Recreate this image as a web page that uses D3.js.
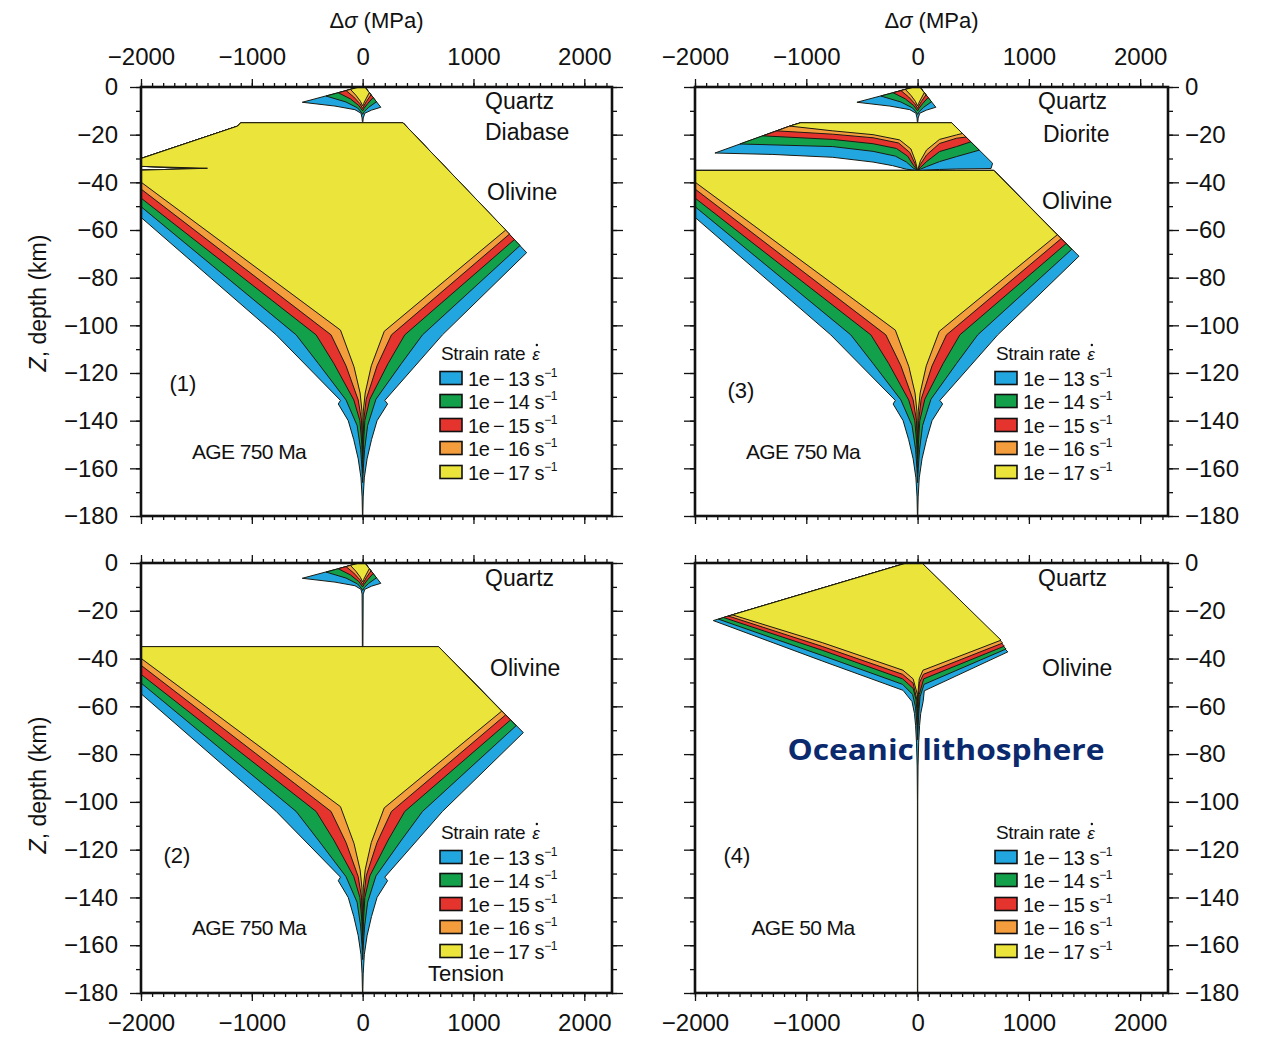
<!DOCTYPE html>
<html><head><meta charset="utf-8">
<script src="https://cdn.jsdelivr.net/npm/d3@7"></script>
<style>
body{margin:0;background:#fff}
svg text{font-family:"Liberation Sans",Arial,Helvetica,sans-serif;fill:#111}
</style>
</head><body>
<svg id="c" width="1268" height="1038"></svg>
<script>
// ===================== DATA =====================
// strain rates, order: outermost (blue) -> innermost (yellow)
const rateExponents = ["13","14","15","16","17"];
const rateColors = ["#22a6df","#13a04b","#e5332e","#f49d3d","#ebe43a"];
const stressTicks = [-2000,-1000,0,1000,2000];
const stressMinor = d3.range(-2000,2251,100);
const depthTicks = [0,-20,-40,-60,-80,-100,-120,-140,-160,-180];
const depthMinor = d3.range(0,-181,-10);

// --- quartz upper crust (panels 1-3), points [stress MPa, depth km] ---
const quartzTop = [[-30,0],[20,0]];
const quartzRight = [
  [[164,-8.5],[80,-9.7],[20,-11],[5,-13]],
  [[125,-6.2],[55,-8.5],[15,-10.3],[0,-11.5]],
  [[95,-4.4],[45,-7],[12,-9],[0,-10]],
  [[75,-3.3],[35,-6],[10,-8],[0,-9]],
  [[60,-2.4],[30,-5],[8,-7],[0,-8]]
];
const quartzLeft = [
  [[-545,-6.4],[-250,-8],[-70,-9.5],[-15,-11],[-5,-13]],
  [[-330,-3.8],[-150,-6.3],[-45,-8.8],[-8,-10.8],[0,-11.5]],
  [[-220,-2.4],[-110,-5],[-35,-7.8],[0,-10]],
  [[-150,-1.5],[-80,-4.2],[-25,-7],[0,-9]],
  [[-110,-1],[-60,-3.5],[-20,-6],[0,-8]]
];
const quartzTrunk = 2.5;             // half width of weak stem (MPa)
const quartzBase = [-14.6,-35,-14.6]; // depth where stem ends, panels 1,2,3

// --- olivine mantle, 750 Ma (panels 1-3) ---
const mantleLeft = [
  [[-2000,-54.7],[-780,-104],[-200,-131.5],[-220,-133],[-130,-140],[-80,-148],[-40,-156],[-15,-164],[-5,-172],[-1.5,-180]],
  [[-2000,-50.2],[-600,-104],[-400,-116],[-150,-131.3],[-50,-142],[-18,-152],[-6,-160],[0,-166]],
  [[-2000,-46.6],[-420,-104],[-260,-116],[-80,-131.3],[-25,-140],[-7,-150],[-2,-158],[0,-162]],
  [[-2000,-42.8],[-285,-104],[-150,-117],[-40,-131.3],[-10,-140],[-3,-150],[0,-156]],
  [[-2000,-39.9],[-200,-102],[-78,-117.4],[-23,-128.4],[-6,-136],[-2,-146],[0,-152]]
];
const mantleRight = [
  [[720,-104],[200,-131.5],[225,-133],[130,-140],[80,-148],[40,-156],[15,-164],[5,-172],[1.5,-180]],
  [[540,-104],[350,-116],[120,-131],[45,-142],[18,-152],[6,-160],[0,-166]],
  [[380,-104],[230,-116],[65,-131],[20,-140],[7,-150],[2,-158],[0,-162]],
  [[260,-104],[130,-117],[32,-131],[10,-140],[3,-150],[0,-156]],
  [[195,-102.5],[78,-117],[23,-128.4],[6,-136],[2,-146],[0,-152]]
];
const mantleVertexP1 = [[1480,-69.5],[1420,-66.5],[1370,-64],[1325,-61.7],[1291,-60]];
const mantleVertexP23 = [[1450,-71],[1385,-68.1],[1335,-65.7],[1290,-63.6],[1255,-62]];
// panel 1: diabase lower crust merged with mantle
const diabaseTop = [[-1100,-15],[364,-15]];
const diabaseUpperLeft = [[-2600,-35.6],[-2000,-34.9],[-1400,-34.1],[-2000,-33.3],[-2600,-31.6],[-2000,-30],[-1128,-16.4]];
// panels 2,3: mantle top at Moho
const mohoTop = [[-2600,-35],[685,-35]];
const offScale = -2600;

// --- diorite lower crust (panel 3) ---
const dioriteTop = [[-1148,-16.4],[-1050,-15],[306,-15]];
const dioriteRight = [
  [[674,-32],[660,-34.2],[350,-34.4],[197,-34.6],[81,-34.8],[0,-35]],
  [[554,-26.5],[350,-29.2],[197,-31.3],[81,-33.4],[25,-34.5],[0,-35]],
  [[479,-23],[350,-25],[197,-27.1],[81,-31.3],[25,-33.8],[0,-35]],
  [[436,-21],[350,-21.5],[197,-23.7],[81,-28.5],[25,-32.5],[0,-35]],
  [[403,-19.5],[350,-20.1],[197,-22],[81,-26.4],[25,-31],[0,-35]]
];
const dioriteLeft = [
  [[-1821,-27.7],[-1300,-28.3],[-762,-29.5],[-400,-31.5],[-224,-33],[-100,-34.5],[0,-35]],
  [[-1596,-23.9],[-762,-25],[-400,-27],[-200,-29],[-100,-31.5],[-40,-34],[0,-35]],
  [[-1390,-20.5],[-762,-22],[-400,-23.8],[-190,-25.8],[-90,-29],[-35,-33],[0,-35]],
  [[-1265,-18.4],[-762,-19.8],[-400,-21.3],[-170,-23.5],[-70,-27.5],[-25,-32],[0,-35]],
  [[-1148,-16.4],[-762,-18.4],[-400,-20],[-161,-22.2],[-60,-26],[-20,-31],[0,-35]]
];

// --- oceanic lithosphere, 50 Ma (panel 4) ---
const oceanTop = [[-100,0],[40,0]];
const oceanRight = [
  [[811,-37.2],[60,-53.5],[50,-58],[28,-63],[18,-68],[10,-75],[4,-85],[1.5,-100],[1.5,-180]],
  [[795,-36],[58,-50.8],[22,-56],[12,-62],[5,-68],[0,-74]],
  [[780,-34.8],[55,-48.5],[15,-55],[7,-61],[0,-70]],
  [[765,-33.5],[52,-46.6],[15,-50.3],[3,-58],[0,-65]],
  [[750,-32.3],[48,-44.9],[15,-48.5],[2,-55],[0,-60]]
];
const oceanLeft = [
  [[-1836,-24.1],[-852,-41.1],[-131,-53.3],[-50,-58],[-28,-63],[-18,-68],[-10,-75],[-4,-85],[-1.5,-100],[-1.5,-180]],
  [[-1790,-23.5],[-852,-38.8],[-135,-50.8],[-45,-55],[-20,-60],[-12,-64],[-5,-68],[0,-74]],
  [[-1745,-22.8],[-852,-36.6],[-135,-48.5],[-40,-52.5],[-15,-57],[-7,-61],[0,-70]],
  [[-1700,-22.2],[-852,-35],[-135,-46.6],[-40,-50.3],[-3,-58],[0,-65]],
  [[-1665,-21.7],[-852,-33.4],[-131,-44.9],[-40,-48.5],[-2,-55],[0,-60]]
];

// ===================== LAYOUT =====================
const svg = d3.select("#c");
const xDomain = [-2000,2250], zDomain = [0,-180];
const panels = [
  {x:141,y:87,w:471,h:429, xLab:"top", yLab:"left", num:"(1)", age:"AGE 750 Ma",
   mats:[["Quartz",344,13],["Diabase",344,44],["Olivine",346,104]]},
  {x:141,y:563,w:471,h:430, xLab:"bottom", yLab:"left", num:"(2)", age:"AGE 750 Ma",
   mats:[["Quartz",344,14],["Olivine",349,104]]},
  {x:695,y:87,w:473,h:429, xLab:"top", yLab:"right", num:"(3)", age:"AGE 750 Ma",
   mats:[["Quartz",343,13],["Diorite",348,46],["Olivine",347,113]]},
  {x:695,y:563,w:473,h:430, xLab:"bottom", yLab:"right", num:"(4)", age:"AGE 50 Ma",
   mats:[["Quartz",343,14],["Olivine",347,104]]}
];
const numPos = [[42,296],[36,292],[46,303],[42,292]];
const fmt = d => d < 0 ? "\u2212" + Math.abs(d) : String(d);
const rev = a => a.slice().reverse();

function buildPolys(i){
  const L = [];
  if (i < 3){
    const m = [];
    for (let r=0;r<5;r++){
      const zf = mantleLeft[r][0][1];
      if (i === 0){
        m.push([...diabaseTop, mantleVertexP1[r], ...mantleRight[r], ...rev(mantleLeft[r]), [offScale,zf], ...diabaseUpperLeft]);
      } else {
        m.push([...mohoTop, mantleVertexP23[r], ...mantleRight[r], ...rev(mantleLeft[r]), [offScale,zf]]);
      }
    }
    L.push(m);
    if (i === 2){
      const d = [];
      for (let r=0;r<5;r++) d.push([...dioriteTop, ...dioriteRight[r], ...rev(dioriteLeft[r])]);
      L.push(d);
    }
    const q = [];
    for (let r=0;r<5;r++){
      const R = quartzRight[r].slice(), Lf = quartzLeft[r].slice();
      if (r === 0){ R.push([quartzTrunk, quartzBase[i]]); Lf.push([-quartzTrunk, quartzBase[i]]); }
      q.push([...quartzTop, ...R, ...rev(Lf)]);
    }
    L.push(q);
  } else {
    const o = [];
    for (let r=0;r<5;r++) o.push([...oceanTop, ...oceanRight[r], ...rev(oceanLeft[r])]);
    L.push(o);
  }
  return L;
}

panels.forEach((p,i)=>{
  const x = d3.scaleLinear().domain(xDomain).range([0,p.w]);
  const y = d3.scaleLinear().domain(zDomain).range([0,p.h]);
  const g = svg.append("g").attr("transform",`translate(${p.x},${p.y})`);
  g.append("clipPath").attr("id","clip"+i).append("rect").attr("width",p.w).attr("height",p.h);
  const line = d3.line().x(d=>x(d[0])).y(d=>y(d[1]));
  const pg = g.append("g").attr("clip-path",`url(#clip${i})`);
  buildPolys(i).forEach(layer=>{
    layer.forEach((pts,r)=>{
      pg.append("path").attr("d", line(pts)+"Z")
        .attr("fill", rateColors[r]).attr("stroke","#1b1b12")
        .attr("stroke-width",1).attr("stroke-linejoin","round");
    });
  });

  const styleAxis = sel => { sel.select(".domain").remove();
    sel.selectAll("line").attr("stroke","#111").attr("stroke-width",1.3);
    sel.selectAll("text").attr("font-size",24).attr("font-family",null).attr("fill","#111"); };
  g.append("g").call(d3.axisTop(x).tickValues(stressMinor).tickSize(4).tickFormat("")).call(styleAxis);
  g.append("g").call(d3.axisTop(x).tickValues(stressTicks).tickSize(8).tickPadding(14)
    .tickFormat(p.xLab==="top"?fmt:"")).call(styleAxis);
  g.append("g").attr("transform",`translate(0,${p.h})`)
    .call(d3.axisBottom(x).tickValues(stressMinor).tickSize(4).tickFormat("")).call(styleAxis);
  g.append("g").attr("transform",`translate(0,${p.h})`)
    .call(d3.axisBottom(x).tickValues(stressTicks).tickSize(8).tickPadding(13)
    .tickFormat(p.xLab==="bottom"?fmt:"")).call(styleAxis);
  g.append("g").call(d3.axisLeft(y).tickValues(depthMinor).tickSize(5).tickFormat("")).call(styleAxis);
  g.append("g").call(d3.axisLeft(y).tickValues(depthTicks).tickSize(11).tickPadding(12)
    .tickFormat(p.yLab==="left"?fmt:"")).call(styleAxis);
  g.append("g").attr("transform",`translate(${p.w},0)`)
    .call(d3.axisRight(y).tickValues(depthMinor).tickSize(5).tickFormat("")).call(styleAxis);
  g.append("g").attr("transform",`translate(${p.w},0)`)
    .call(d3.axisRight(y).tickValues(depthTicks).tickSize(11).tickPadding(6)
    .tickFormat(p.yLab==="right"?fmt:"")).call(styleAxis);

  g.append("rect").attr("width",p.w).attr("height",p.h).attr("fill","none")
    .attr("stroke","#111").attr("stroke-width",2.6);

  p.mats.forEach(m=>{
    g.append("text").attr("x",m[1]).attr("y",m[2]+8.5).attr("font-size",23).text(m[0]);
  });
  g.append("text").attr("x",numPos[i][0]).attr("y",numPos[i][1]+8).attr("text-anchor","middle")
    .attr("font-size",22).text(p.num);
  g.append("text").attr("x",108).attr("y",364+7.5).attr("text-anchor","middle")
    .attr("font-size",21).attr("letter-spacing",-0.6).text(p.age);

  // legend
  const lg = g.append("g").attr("transform",`translate(${i<2?299:300},${i%2===0?266:269})`);
  const t = lg.append("text").attr("x",1).attr("y",7).attr("font-size",19).attr("letter-spacing",-0.3)
    .text("Strain rate");
  const tl = t.node().getComputedTextLength();
  lg.append("text").attr("x",1+tl+7).attr("y",7).attr("font-size",17).attr("font-style","italic")
    .text("\u03b5");
  lg.append("circle").attr("cx",1+tl+11.5).attr("cy",-8).attr("r",1.2).attr("fill","#111");
  rateExponents.forEach((e,r)=>{
    const yy = [25,48,72,95,119][r];
    lg.append("rect").attr("x",0).attr("y",yy-6.5).attr("width",22).attr("height",13)
      .attr("fill",rateColors[r]).attr("stroke","#111").attr("stroke-width",1.6);
    const tt = lg.append("text").attr("x",28).attr("y",yy+7.5).attr("font-size",20).attr("letter-spacing",-0.4);
    tt.append("tspan").text("1e\u2009\u2212\u2009" + e + " s");
    tt.append("tspan").attr("dy",-9).attr("font-size",12).text("\u22121");
  });
  if (i===1){
    g.append("text").attr("x",325).attr("y",410+8).attr("text-anchor","middle")
      .attr("font-size",22).text("Tension");
  }
});

[376.5, 931.5].forEach(cx=>{
  const t = svg.append("text").attr("x",cx).attr("y",28).attr("text-anchor","middle").attr("font-size",22);
  t.append("tspan").text("\u0394");
  t.append("tspan").attr("font-style","italic").text("\u03c3");
  t.append("tspan").text(" (MPa)");
});
[303, 785].forEach(cy=>{
  const t = svg.append("text").attr("transform",`translate(46,${cy}) rotate(-90)`)
    .attr("text-anchor","middle").attr("font-size",23);
  t.append("tspan").attr("font-style","italic").text("Z");
  t.append("tspan").text(", depth (km)");
});
svg.append("text").attr("x",946).attr("y",760).attr("text-anchor","middle")
  .attr("font-size",28).attr("font-weight","bold")
  .style("font-family","'Open Sans','Noto Sans',sans-serif").style("fill","#0b2a6e")
  .attr("textLength",317).attr("lengthAdjust","spacingAndGlyphs")
  .text("Oceanic  lithosphere");
</script>
</body></html>
